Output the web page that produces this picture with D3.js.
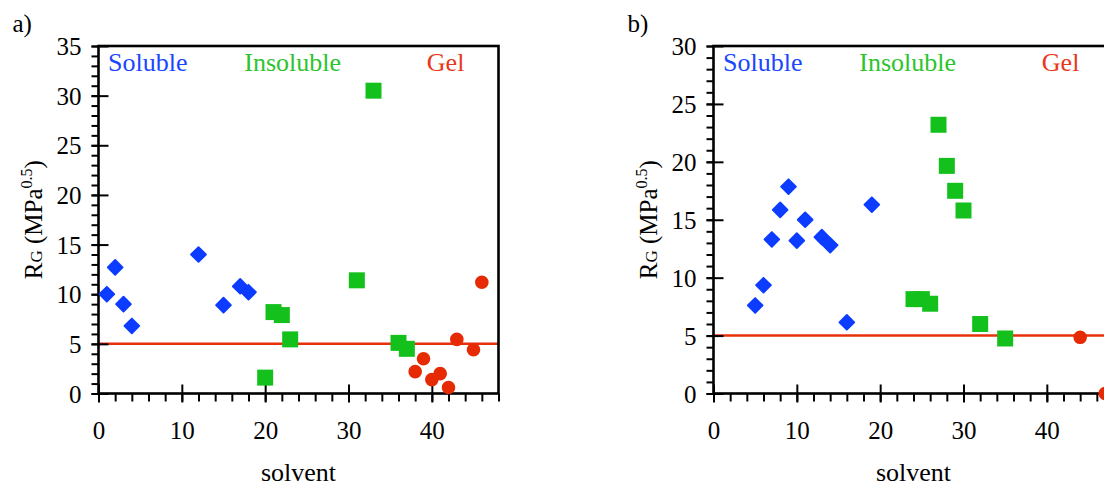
<!DOCTYPE html>
<html>
<head>
<meta charset="utf-8">
<script src="https://cdn.jsdelivr.net/npm/d3@7"></script>
<style>
  html, body { margin: 0; padding: 0; background: #fff; }
  svg { display: block; }
</style>
</head>
<body>
<svg id="chart" width="1104" height="486"></svg>
<script>
// Panel a data
const aSolubleX   = [1, 2, 3, 4, 12, 15, 17, 18];
const aSolubleY   = [10.0, 12.7, 9.0, 6.8, 14.0, 8.9, 10.8, 10.2];
const aInsolubleX = [20, 21, 22, 23, 31, 33, 36, 37];
const aInsolubleY = [1.6, 8.2, 7.9, 5.45, 11.4, 30.5, 5.1, 4.5];
const aGelX       = [38, 39, 40, 41, 42, 43, 45, 46];
const aGelY       = [2.2, 3.5, 1.4, 2.0, 0.6, 5.45, 4.4, 11.2];

// Panel b data
const bSolubleX   = [5, 6, 7, 8, 9, 10, 11, 13, 14, 16, 19];
const bSolubleY   = [7.6, 9.35, 13.3, 15.85, 17.85, 13.2, 15.0, 13.5, 12.8, 6.15, 16.3];
const bInsolubleX = [24, 25, 26, 27, 28, 29, 30, 32, 35];
const bInsolubleY = [8.15, 8.15, 7.75, 23.2, 19.65, 17.5, 15.8, 6.0, 4.75];
const bGelX       = [44, 47];
const bGelY       = [4.85, 0];

// Axis settings
const xMax = 48;
const xMajorTicks = [0, 10, 20, 30, 40];
const aYMax = 35;
const bYMax = 30;
const aYTicks = [0, 5, 10, 15, 20, 25, 30, 35];
const bYTicks = [0, 5, 10, 15, 20, 25, 30];
const threshold = 5;

const groupLabels = ["Soluble", "Insoluble", "Gel"];
const groupLabelX = [1.15, 17.5, 39.4];
const xTitle = "solvent";

const colors = {
  soluble: "#0b3cff", insoluble: "#14c01c", gel: "#e62a04",
  solubleText: "#1a46ff", insolubleText: "#2cc42c", gelText: "#e8381c",
  line: "#e8300a"
};

const FONT = "'Liberation Serif', 'Times New Roman', Times, 'DejaVu Serif', serif";

const svg = d3.select("#chart");
svg.append("rect").attr("width", 1104).attr("height", 486).attr("fill", "#fff");

const plotTop = 46, plotBottom = 393.5, plotW = 400;

function zip(xs, ys) { return xs.map((x, i) => ({ x, y: ys[i] })); }

function drawPanel(left, yMax, yTicks, tag, soluble, insoluble, gel) {
  const x = d3.scaleLinear().domain([0, xMax]).range([left, left + plotW]);
  const y = d3.scaleLinear().domain([0, yMax]).range([plotBottom, plotTop]);
  const g = svg.append("g").attr("font-family", FONT);

  // panel tag
  g.append("text").attr("x", left - 86).attr("y", 32)
    .attr("font-size", 25).attr("fill", "#000").text(tag);

  // threshold line
  g.append("line")
    .attr("x1", x(0)).attr("x2", x(xMax))
    .attr("y1", y(threshold)).attr("y2", y(threshold))
    .attr("stroke", colors.line).attr("stroke-width", 2.5);

  // minor ticks
  const yMinor = g.append("g").attr("transform", `translate(${x(0)},0)`)
    .call(d3.axisLeft(y).tickValues(d3.range(0, yMax + 1, 1)).tickSize(7).tickFormat(""));
  yMinor.select(".domain").remove();
  yMinor.selectAll(".tick line").attr("stroke-width", 2);

  const xMinor = g.append("g").attr("transform", `translate(0,${y(0)})`)
    .call(d3.axisBottom(x).tickValues(d3.range(0, xMax + 1, 2)).tickSize(8).tickFormat(""));
  xMinor.select(".domain").remove();
  xMinor.selectAll(".tick line").attr("stroke-width", 2);

  // major ticks + labels
  const yAxis = g.append("g").attr("transform", `translate(${x(0)},0)`)
    .call(d3.axisLeft(y).tickValues(yTicks).tickSize(7).tickPadding(10));
  yAxis.attr("font-family", FONT).attr("font-size", 25);
  yAxis.select(".domain").remove();
  yAxis.selectAll(".tick line").attr("x1", 10).attr("stroke-width", 2);
  yAxis.selectAll(".tick text").attr("fill", "#000").attr("dy", "0.34em");

  const xAxis = g.append("g").attr("transform", `translate(0,${y(0)})`)
    .call(d3.axisBottom(x).tickValues(xMajorTicks).tickSize(9).tickPadding(19));
  xAxis.attr("font-family", FONT).attr("font-size", 25);
  xAxis.select(".domain").remove();
  xAxis.selectAll(".tick line").attr("y1", -9).attr("stroke-width", 2);
  xAxis.selectAll(".tick text").attr("fill", "#000");

  // frame
  g.append("rect")
    .attr("x", x(0)).attr("y", y(yMax))
    .attr("width", x(xMax) - x(0)).attr("height", y(0) - y(yMax))
    .attr("fill", "none").attr("stroke", "#000").attr("stroke-width", 2.6);

  // axis titles
  g.append("text").attr("x", x(xMax / 2)).attr("y", 481)
    .attr("text-anchor", "middle").attr("font-size", 26).text(xTitle);

  const yt = g.append("text")
    .attr("transform", `translate(${left - 57},${(plotTop + plotBottom) / 2}) rotate(-90)`)
    .attr("text-anchor", "middle").attr("font-size", 25);
  yt.append("tspan").text("R");
  yt.append("tspan").attr("font-size", 17).text("G");
  yt.append("tspan").text(" (MPa");
  yt.append("tspan").attr("font-size", 16).attr("dy", -10).text("0.5");
  yt.append("tspan").attr("dy", 10).text(")");

  // group labels
  const labelColors = [colors.solubleText, colors.insolubleText, colors.gelText];
  groupLabels.forEach((t, i) => {
    g.append("text").attr("x", x(groupLabelX[i])).attr("y", 71)
      .attr("font-size", 26).attr("fill", labelColors[i]).text(t);
  });

  // markers
  const diamond = d3.symbol().type(d3.symbolSquare).size(110)();
  g.selectAll(".sol").data(soluble).join("path")
    .attr("d", diamond)
    .attr("transform", d => `translate(${x(d.x)},${y(d.y)}) rotate(45)`)
    .attr("fill", colors.soluble).attr("stroke", colors.soluble)
    .attr("stroke-width", 1.8).attr("stroke-linejoin", "round");

  const square = d3.symbol().type(d3.symbolSquare).size(256)();
  g.selectAll(".ins").data(insoluble).join("path")
    .attr("d", square)
    .attr("transform", d => `translate(${x(d.x)},${y(d.y)})`)
    .attr("fill", colors.insoluble);

  const circle = d3.symbol().type(d3.symbolCircle).size(Math.PI * 6.8 * 6.8)();
  g.selectAll(".gel").data(gel).join("path")
    .attr("d", circle)
    .attr("transform", d => `translate(${x(d.x)},${y(d.y)})`)
    .attr("fill", colors.gel);
}

drawPanel(98.5, aYMax, aYTicks, "a)",
  zip(aSolubleX, aSolubleY), zip(aInsolubleX, aInsolubleY), zip(aGelX, aGelY));
drawPanel(713.5, bYMax, bYTicks, "b)",
  zip(bSolubleX, bSolubleY), zip(bInsolubleX, bInsolubleY), zip(bGelX, bGelY));
</script>
</body>
</html>
